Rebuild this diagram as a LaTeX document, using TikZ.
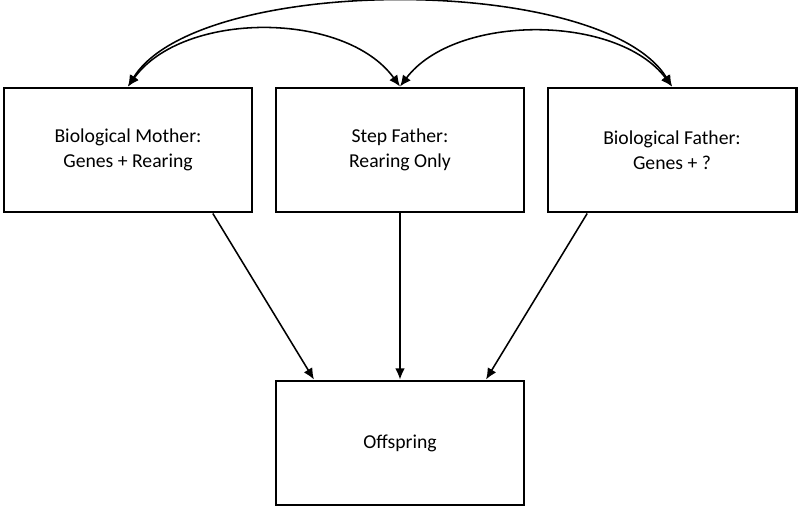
\documentclass[tikz,border=0pt]{standalone}
\usepackage{fontspec}
\setmainfont{Carlito}
\usetikzlibrary{arrows.meta}

\begin{document}
\begin{tikzpicture}[x=0.025cm,y=-0.025cm,
  parent/.style={draw,line width=1.5pt,minimum width=6.22cm,minimum height=3.12cm,
    align=center,font=\fontsize{14}{18}\selectfont},
  link/.style={line width=1.1pt,-{Latex[length=8pt,width=7pt]}},
  twoway/.style={line width=1.1pt,{Latex[length=8pt,width=7pt]}-{Latex[length=8pt,width=7pt]}}]
  \useasboundingbox (0,0) rectangle (800,508);
  \node[parent] (mother)    at (128,150) {Biological Mother:\\Genes + Rearing};
  \node[parent] (step)      at (400,150) {Step Father:\\Rearing Only};
  \node[parent] (father)    at (672,150) {Biological Father:\\Genes + ?};
  \node[parent] (offspring) at (400,443) {Offspring};
  \draw[twoway] (mother.north) .. controls +(70,-113) and +(-70,-113) .. (father.north);
  \draw[twoway] (mother.north) .. controls +(55,-76) and +(-55,-76) .. (step.north);
  \draw[twoway] (step.north) .. controls +(55,-73) and +(-55,-73) .. (father.north);
  \draw[link] ([xshift=2.12cm]mother.south) -- ([xshift=-2.15cm]offspring.north);
  \draw[link] (step.south) -- (offspring.north);
  \draw[link] ([xshift=-2.12cm]father.south) -- ([xshift=2.15cm]offspring.north);
\end{tikzpicture}
\end{document}
